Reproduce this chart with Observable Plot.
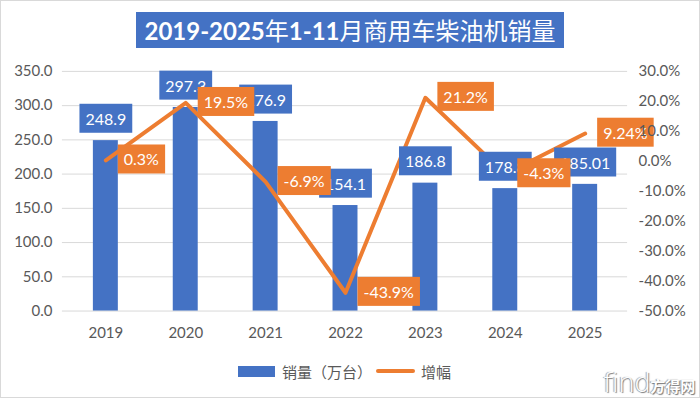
<!DOCTYPE html>
<html>
<head>
<meta charset="utf-8">
<script src="https://cdn.jsdelivr.net/npm/d3@7"></script>
<script src="https://cdn.jsdelivr.net/npm/@observablehq/plot@0.6"></script>
<style>
  html, body { margin: 0; padding: 0; background: #fff; }
  #wrap { position: relative; width: 700px; height: 398px; box-sizing: border-box; border: 1px solid #d9d9d9; overflow: hidden; font-family: Lato, "Noto Sans CJK SC", sans-serif; }
  #chart { position: absolute; left: -1px; top: -1px; }
  #title { position: absolute; left: 135px; top: 11px; width: 428px; height: 36px; background: #4472C4; color: #fff; font-size: 24px; line-height: 36px; text-align: center; white-space: nowrap; font-family: Lato, "Noto Sans CJK SC", sans-serif; }
  #title b { font-weight: 700; }
  #title span { font-family: "Noto Sans CJK SC", sans-serif; font-weight: 400; }
  #legend { position: absolute; left: 237px; top: 359px; height: 22px; display: flex; align-items: center; font-family: "Noto Sans CJK SC", sans-serif; font-size: 15px; color: #595959; white-space: nowrap; }
  .sw-bar { width: 37px; height: 11px; background: #4472C4; margin-right: 7px; }
  .sw-line { width: 39px; height: 4px; border-radius: 2px; background: #ED7D31; margin: 0 6px 0 4px; }
  #wm { position: absolute; left: 602px; top: 366px; white-space: nowrap; color: #fff; text-shadow: 1px 1px 1px #777, -1px 0 1px #999; }
  #wm .f { font-family: "DejaVu Sans", sans-serif; font-size: 27px; font-weight: 300; letter-spacing: -1px; }
  #wm .c { font-family: "Noto Sans CJK SC", sans-serif; font-size: 15px; font-weight: 700; }
</style>
</head>
<body>
<div id="wrap">
  <div id="chart"></div>
  <div id="title"><b>2019-2025</b><span>年</span><b>1-11</b><span>月商用车柴油机销量</span></div>
  <div id="legend"><div class="sw-bar"></div><span>销量（万台）</span><div class="sw-line"></div><span>增幅</span></div>
  <div id="wm"><span class="f">find</span><span class="c">方得网</span></div>
</div>
<script>
// ---- data ----
const years = ["2019", "2020", "2021", "2022", "2023", "2024", "2025"];
const sales = [248.9, 297.3, 276.9, 154.1, 186.8, 178.8, 185.01];
const growth = [0.3, 19.5, -6.9, -43.9, 21.2, -4.3, 9.24];
const salesTicks = [0, 50, 100, 150, 200, 250, 300, 350];
const growthTicks = [-50, -40, -30, -20, -10, 0, 10, 20, 30];

const data = years.map((year, i) => ({year, sales: sales[i], growth: growth[i]}));

// map growth (%) onto the sales axis range for the secondary axis
const yMax = 350, gMin = -50, gMax = 30;
const toY = p => (p - gMin) / (gMax - gMin) * yMax;
const fromY = v => v / yMax * (gMax - gMin) + gMin;

const blue = "#4472C4", orange = "#ED7D31";

const chart = Plot.plot({
  width: 700,
  height: 398,
  marginLeft: 62,
  marginRight: 72,
  marginTop: 71,
  marginBottom: 87,
  style: {fontFamily: "Lato, 'Noto Sans CJK SC', sans-serif", fontSize: "15px", color: "#595959", background: "transparent"},
  x: {type: "band", domain: years, paddingInner: 0.69, paddingOuter: 0.345},
  y: {domain: [0, yMax]},
  marks: [
    Plot.gridY(salesTicks, {stroke: "#d9d9d9", strokeOpacity: 1, strokeWidth: 1}),
    Plot.axisY({ticks: salesTicks, tickFormat: d => d.toFixed(1), tickSize: 0, tickPadding: 10, label: null}),
    Plot.axisX({tickSize: 0, tickPadding: 16, label: null}),
    Plot.barY(data, {x: "year", y: "sales", fill: blue}),
    Plot.line(data, {x: "year", y: d => toY(d.growth), stroke: orange, strokeWidth: 4, strokeLinejoin: "round", strokeLinecap: "round"}),
    Plot.text(data, {x: "year", y: "sales", text: d => String(d.sales), dy: -21, fill: "white", fontSize: 16}),
    Plot.text(data, {x: "year", y: d => toY(d.growth), text: d => String(d.growth) + "%", dx: 18, textAnchor: "start", fill: "white", fontSize: 16}),
    Plot.axisY({anchor: "right", ticks: growthTicks.map(toY), tickFormat: v => { const p = fromY(v); return (Math.abs(p) < 1e-9 ? 0 : p).toFixed(1) + "%"; }, tickSize: 0, tickPadding: 11, label: null})
  ]
});

document.getElementById("chart").appendChild(chart);

function addBoxes(g, fill, padX, padY) {
  if (!g) return;
  const texts = Array.from(g.querySelectorAll("text"));
  const first = g.firstChild;
  texts.forEach(t => {
    const b = t.getBBox();
    const r = document.createElementNS("http://www.w3.org/2000/svg", "rect");
    r.setAttribute("x", b.x - padX);
    r.setAttribute("y", b.y - padY);
    r.setAttribute("width", b.width + 2 * padX);
    r.setAttribute("height", b.height + 2 * padY);
    r.setAttribute("fill", fill);
    const tr = t.getAttribute("transform");
    if (tr) r.setAttribute("transform", tr);
    g.insertBefore(r, first);
  });
}
// the two label text-mark groups: bar labels, then growth labels
const textGroups = Array.from(chart.querySelectorAll(':scope > g[aria-label="text"]'));
addBoxes(textGroups[0], blue, 6, 5);
addBoxes(textGroups[1], orange, 6, 5);
</script>
</body>
</html>
